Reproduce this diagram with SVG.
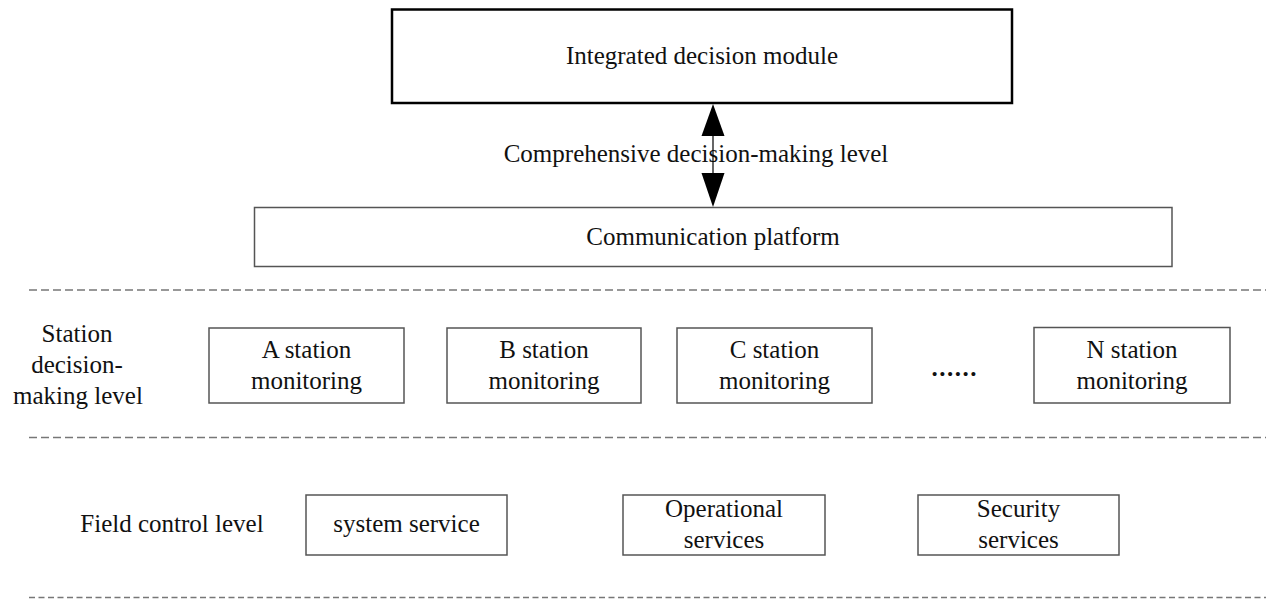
<svg xmlns="http://www.w3.org/2000/svg" width="1266" height="599" viewBox="0 0 1266 599">
<style>
.t{font-family:"Liberation Serif","Times New Roman",serif;font-size:25px;fill:#111;text-anchor:middle}
.box{fill:#fff;stroke:#555;stroke-width:1.5}
.dash{stroke:#777;stroke-width:1.5;fill:none}
</style>
<rect width="1266" height="599" fill="#fff"/>
<g id="separators">
<line class="dash" x1="29" y1="290" x2="1266" y2="290" stroke-dasharray="8 4"/>
<line class="dash" x1="29" y1="437.5" x2="1266" y2="437.5" stroke-dasharray="8 4"/>
<line class="dash" x1="29" y1="597.5" x2="1266" y2="597.5" stroke-dasharray="6 3.5" stroke-width="2" stroke="#666"/>
</g>
<g id="level-labels">
<text class="t" x="696" y="162">Comprehensive decision-making level</text>
<text class="t" x="77" y="342">Station</text>
<text class="t" x="77" y="373">decision-</text>
<text class="t" x="78" y="404">making level</text>
<text class="t" x="172" y="532">Field control level</text>
</g>
<g id="integrated-decision-module">
<rect x="392" y="9.5" width="620" height="93.5" fill="#fff" stroke="#000" stroke-width="2.5"/>
<text class="t" x="702" y="64">Integrated decision module</text>
</g>
<g id="communication-platform">
<rect class="box" x="254.5" y="207.5" width="917.5" height="59" stroke="#777"/>
<text class="t" x="713" y="245">Communication platform</text>
</g>
<g id="connectors">
<line x1="713" y1="120" x2="713" y2="190" stroke="#000" stroke-width="1.2"/>
<polygon points="713,104 701.5,136 724.5,136" fill="#000"/>
<polygon points="713,207 701.5,173 724.5,173" fill="#000"/>
</g>
<g id="station-a">
<rect class="box" x="209" y="328" width="195" height="75"/>
<text class="t" x="306.5" y="358">A station</text>
<text class="t" x="306.5" y="389">monitoring</text>
</g>
<g id="station-b">
<rect class="box" x="447" y="328" width="194" height="75"/>
<text class="t" x="544" y="358">B station</text>
<text class="t" x="544" y="389">monitoring</text>
</g>
<g id="station-c">
<rect class="box" x="677" y="328" width="195" height="75"/>
<text class="t" x="774.5" y="358">C station</text>
<text class="t" x="774.5" y="389">monitoring</text>
</g>
<g id="ellipsis">
<text class="t" x="954" y="376" font-weight="bold" textLength="45" lengthAdjust="spacing">......</text>
</g>
<g id="station-n">
<rect class="box" x="1034" y="327.5" width="196" height="75.5"/>
<text class="t" x="1132" y="358">N station</text>
<text class="t" x="1132" y="389">monitoring</text>
</g>
<g id="system-service">
<rect class="box" x="306" y="495" width="201" height="60"/>
<text class="t" x="406.5" y="532">system service</text>
</g>
<g id="operational-services">
<rect class="box" x="623" y="495" width="202" height="60"/>
<text class="t" x="724" y="517">Operational</text>
<text class="t" x="724" y="548">services</text>
</g>
<g id="security-services">
<rect class="box" x="918" y="495" width="201" height="60"/>
<text class="t" x="1018.5" y="517">Security</text>
<text class="t" x="1018.5" y="548">services</text>
</g>
</svg>
